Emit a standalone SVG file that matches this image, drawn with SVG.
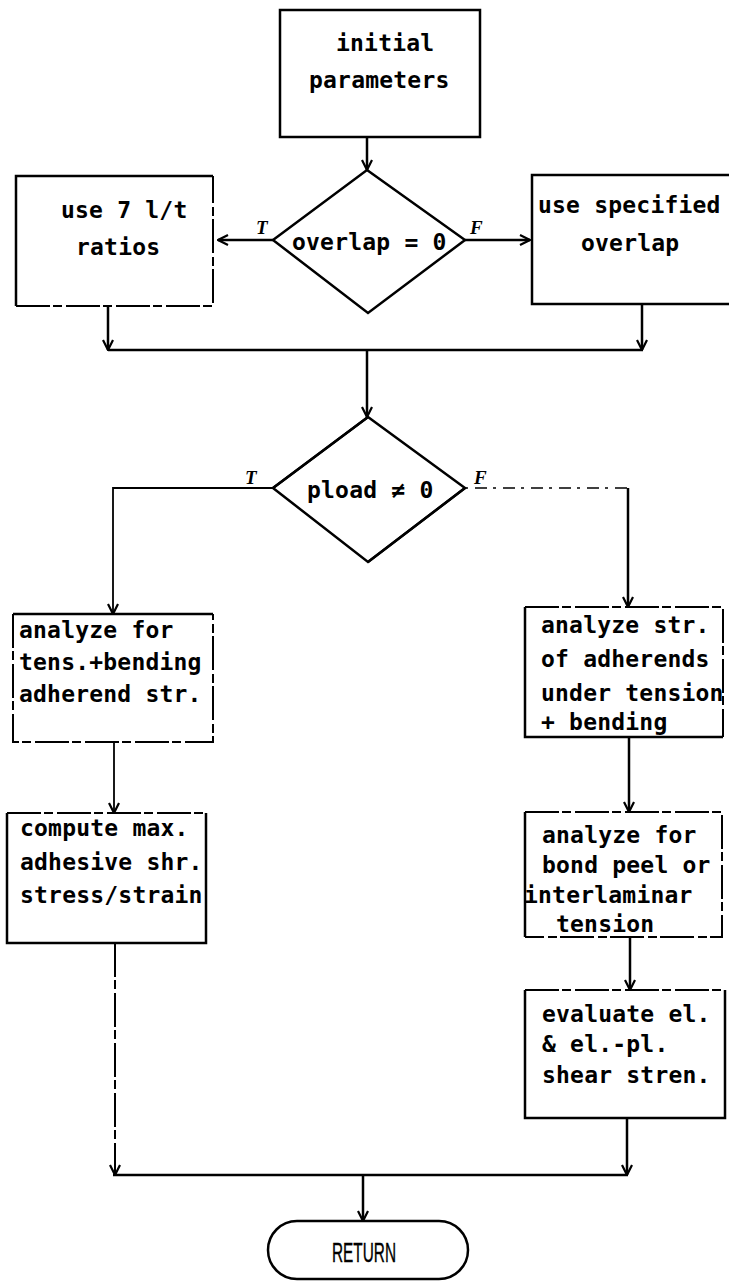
<svg xmlns="http://www.w3.org/2000/svg" width="729" height="1281" viewBox="0 0 729 1281">
<style>
.box{fill:none;stroke:#000;stroke-width:2.5}
.edge{fill:none;stroke:#000;stroke-width:2.5}
.faint{fill:none;stroke:#000;stroke-width:2;stroke-dasharray:34 3 9 4}
.dot{fill:none;stroke:#000;stroke-width:1.5;stroke-dasharray:3 7 12 6}
.t{font-family:"DejaVu Sans Mono","Liberation Mono",monospace;font-weight:bold;font-size:23px;letter-spacing:0.2px;fill:#000}
.lbl{font-family:"Liberation Serif",serif;font-style:italic;font-weight:bold;font-size:19px;fill:#000}
.ret{font-family:"Liberation Sans",Arial,sans-serif;font-size:28px;fill:#000;stroke:#000;stroke-width:0.4}
.conn{fill:none;stroke:#000;stroke-width:2.5}
.thin{fill:none;stroke:#000;stroke-width:1.8}
</style>
<defs>
<marker id="ah" viewBox="0 0 12 12" refX="11" refY="6" markerWidth="12" markerHeight="12" markerUnits="userSpaceOnUse" orient="auto">
<path d="M1,1 L11,6 L1,11" fill="none" stroke="#000" stroke-width="2.2"/>
</marker>
</defs>
<rect width="729" height="1281" fill="#fff"/>

<g id="connectors">
<path class="conn" d="M367,137 V170" marker-end="url(#ah)"/>
<path class="conn" d="M273,240 H218" marker-end="url(#ah)"/>
<path class="conn" d="M465,240 H530" marker-end="url(#ah)"/>
<path class="conn" d="M108,306 V350" marker-end="url(#ah)"/>
<path class="conn" d="M642,304 V350" marker-end="url(#ah)"/>
<path class="conn" d="M108,350 H643"/>
<path class="conn" d="M367,350 V417" marker-end="url(#ah)"/>
<path class="thin" d="M273,488 H113 V614" marker-end="url(#ah)"/>
<path class="dot" d="M465,488 H628"/>
<path class="conn" d="M628,488 V607" marker-end="url(#ah)"/>
<path class="thin" d="M114,742 V813" marker-end="url(#ah)"/>
<path class="conn" d="M629,737 V812" marker-end="url(#ah)"/>
<path class="conn" d="M630,937 V990" marker-end="url(#ah)"/>
<path class="faint" d="M115,943 V1175"/>
<path class="thin" d="M115,1160 V1175" marker-end="url(#ah)"/>
<path class="conn" d="M627,1118 V1175" marker-end="url(#ah)"/>
<path class="conn" d="M113,1175 H628"/>
<path class="conn" d="M363,1175 V1221" marker-end="url(#ah)"/>
<text class="lbl" x="256" y="234">T</text>
<text class="lbl" x="470" y="234">F</text>
<text class="lbl" x="245" y="484">T</text>
<text class="lbl" x="474" y="484">F</text>
</g>

<g id="initial">
<rect class="box" x="280" y="10" width="200" height="127"/>
<text class="t" x="336" y="51">initial</text>
<text class="t" x="309" y="88">parameters</text>
</g>

<g id="decision1">
<path class="edge" stroke-width="3" d="M367,170 L465,240 L368,313 L273,240 Z"/>
<text class="t" x="292" y="250">overlap = 0</text>
</g>

<g id="use7">
<path class="box" d="M213,176 H16 V306"/>
<path class="faint" d="M16,306 H213 V176"/>
<text class="t" x="61" y="218">use 7 l/t</text>
<text class="t" x="76" y="255">ratios</text>
</g>

<g id="useSpecified">
<rect class="box" x="532" y="175" width="205" height="129"/>
<text class="t" x="538" y="213">use specified</text>
<text class="t" x="581" y="251">overlap</text>
</g>

<g id="decision2">
<path class="edge" stroke-width="2" d="M368,417 L465,488 L368,562 L273,488 Z"/>
<path class="edge" stroke-width="3.5" d="M273,488 L368,417 M465,488 L368,562"/>
<text class="t" x="307" y="498">pload ≠ 0</text>
</g>

<g id="tensBending">
<path class="box" d="M13,614 H213"/>
<path class="faint" d="M13,614 V742 H213 V614"/>
<text class="t" x="19" y="638">analyze for</text>
<text class="t" x="19" y="670">tens.+bending</text>
<text class="t" x="19" y="702">adherend str.</text>
</g>

<g id="adherendStr">
<path class="box" d="M525,607 V737 H723"/>
<path class="faint" d="M525,607 H723 V737"/>
<text class="t" x="541" y="633">analyze str.</text>
<text class="t" x="541" y="667">of adherends</text>
<text class="t" x="541" y="701">under tension</text>
<text class="t" x="541" y="730">+ bending</text>
</g>

<g id="computeMax">
<path class="box" d="M7,813 V943 H206 V813"/>
<path class="faint" d="M7,813 H206"/>
<text class="t" x="20" y="836">compute max.</text>
<text class="t" x="20" y="870">adhesive shr.</text>
<text class="t" x="20" y="903">stress/strain</text>
</g>

<g id="bondPeel">
<path class="box" d="M525,812 V937"/>
<path class="faint" d="M525,812 H722 V937 H525"/>
<text class="t" x="542" y="843">analyze for</text>
<text class="t" x="542" y="873">bond peel or</text>
<text class="t" x="524" y="903">interlaminar</text>
<text class="t" x="556" y="932">tension</text>
</g>

<g id="evaluate">
<path class="box" d="M525,990 V1118 H725 V990"/>
<path class="faint" d="M525,990 H725"/>
<text class="t" x="542" y="1022">evaluate el.</text>
<text class="t" x="542" y="1052">&amp; el.-pl.</text>
<text class="t" x="542" y="1083">shear stren.</text>
</g>

<g id="return">
<rect class="box" x="268" y="1221" width="200" height="58" rx="29" ry="29"/>
<text class="ret" x="364" y="1262" text-anchor="middle" textLength="64" lengthAdjust="spacingAndGlyphs">RETURN</text>
</g>
</svg>
